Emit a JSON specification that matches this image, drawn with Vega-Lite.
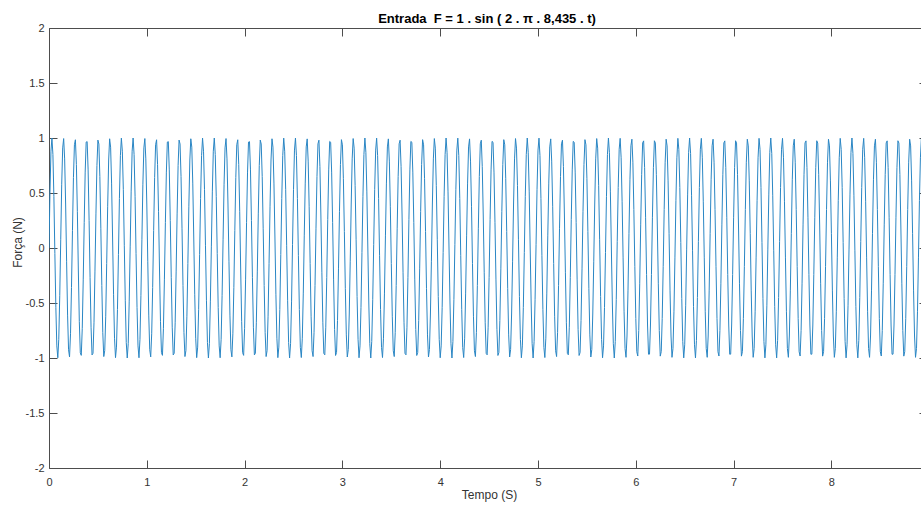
{
"$schema":"https://vega.github.io/schema/vega-lite/v6.json",
"width":872,"height":440,
"autosize":{"type":"none"},
"padding":{"left":49,"top":28,"right":0,"bottom":38},
"background":"#ffffff",
"config":{"view":{"stroke":null},"font":"Liberation Sans"},
"title":{"text":"Entrada\u00a0 F = 1 . sin ( 2 . π . 8,435 . t)","fontSize":13,"fontWeight":"bold","color":"#000000","anchor":"middle","baseline":"alphabetic","offset":-14,"dx":2,"font":"Liberation Sans"},
"data":{"values":[
{"t":0,"f":0},{"t":0.01,"f":0.51},{"t":0.02,"f":0.88},{"t":0.03,"f":1},{"t":0.04,"f":0.85},{"t":0.05,"f":0.47},{"t":0.06,"f":-0.05},{"t":0.07,"f":-0.54},{"t":0.08,"f":-0.89},{"t":0.09,"f":-0.998},
{"t":0.10,"f":-0.83},{"t":0.11,"f":-0.43},{"t":0.12,"f":0.08},{"t":0.13,"f":0.58},{"t":0.14,"f":0.91},{"t":0.15,"f":0.995},{"t":0.16,"f":0.81},{"t":0.17,"f":0.40},{"t":0.18,"f":-0.12},{"t":0.19,"f":-0.61},
{"t":0.20,"f":-0.925},{"t":0.21,"f":-0.99},{"t":0.22,"f":-0.78},{"t":0.23,"f":-0.36},{"t":0.24,"f":0.16},{"t":0.25,"f":0.64},{"t":0.26,"f":0.939},{"t":0.27,"f":0.984},{"t":0.28,"f":0.76},{"t":0.29,"f":0.33},
{"t":0.30,"f":-0.20},{"t":0.31,"f":-0.67},{"t":0.32,"f":-0.952},{"t":0.33,"f":-0.976},{"t":0.34,"f":-0.73},{"t":0.35,"f":-0.29},{"t":0.36,"f":0.23},{"t":0.37,"f":0.69},{"t":0.38,"f":0.963},{"t":0.39,"f":0.967},
{"t":0.40,"f":0.71},{"t":0.41,"f":0.25},{"t":0.42,"f":-0.27},{"t":0.43,"f":-0.72},{"t":0.44,"f":-0.972},{"t":0.45,"f":-0.957},{"t":0.46,"f":-0.68},{"t":0.47,"f":-0.21},{"t":0.48,"f":0.31},{"t":0.49,"f":0.75},
{"t":0.50,"f":0.981},{"t":0.51,"f":0.945},{"t":0.52,"f":0.65},{"t":0.53,"f":0.18},{"t":0.54,"f":-0.34},{"t":0.55,"f":-0.77},{"t":0.56,"f":-0.987},{"t":0.57,"f":-0.932},{"t":0.58,"f":-0.62},{"t":0.59,"f":-0.14},
{"t":0.60,"f":0.38},{"t":0.61,"f":0.80},{"t":0.62,"f":0.993},{"t":0.63,"f":0.917},{"t":0.64,"f":0.59},{"t":0.65,"f":0.10},{"t":0.66,"f":-0.42},{"t":0.67,"f":-0.82},{"t":0.68,"f":-0.997},{"t":0.69,"f":-0.901},
{"t":0.70,"f":-0.56},{"t":0.71,"f":-0.06},{"t":0.72,"f":0.45},{"t":0.73,"f":0.84},{"t":0.74,"f":0.999},{"t":0.75,"f":0.88},{"t":0.76,"f":0.53},{"t":0.77,"f":0.02},{"t":0.78,"f":-0.48},{"t":0.79,"f":-0.86},
{"t":0.80,"f":-1},{"t":0.81,"f":-0.87},{"t":0.82,"f":-0.49},
{"t":0.83,"f":0.01},{"t":0.84,"f":0.51},{"t":0.85,"f":0.88},{"t":0.86,"f":1},{"t":0.87,"f":0.85},{"t":0.88,"f":0.47},{"t":0.89,"f":-0.05},{"t":0.90,"f":-0.54},{"t":0.91,"f":-0.89},{"t":0.92,"f":-0.998},
{"t":0.93,"f":-0.83},{"t":0.94,"f":-0.43},{"t":0.95,"f":0.08},{"t":0.96,"f":0.58},{"t":0.97,"f":0.91},{"t":0.98,"f":0.995},{"t":0.99,"f":0.81},{"t":1.00,"f":0.40},{"t":1.01,"f":-0.12},{"t":1.02,"f":-0.61},
{"t":1.03,"f":-0.925},{"t":1.04,"f":-0.99},{"t":1.05,"f":-0.78},{"t":1.06,"f":-0.36},{"t":1.07,"f":0.16},{"t":1.08,"f":0.64},{"t":1.09,"f":0.939},{"t":1.10,"f":0.984},{"t":1.11,"f":0.76},{"t":1.12,"f":0.33},
{"t":1.13,"f":-0.20},{"t":1.14,"f":-0.67},{"t":1.15,"f":-0.952},{"t":1.16,"f":-0.976},{"t":1.17,"f":-0.73},{"t":1.18,"f":-0.29},{"t":1.19,"f":0.23},{"t":1.20,"f":0.69},{"t":1.21,"f":0.963},{"t":1.22,"f":0.967},
{"t":1.23,"f":0.71},{"t":1.24,"f":0.25},{"t":1.25,"f":-0.27},{"t":1.26,"f":-0.72},{"t":1.27,"f":-0.972},{"t":1.28,"f":-0.957},{"t":1.29,"f":-0.68},{"t":1.30,"f":-0.21},{"t":1.31,"f":0.31},{"t":1.32,"f":0.75},
{"t":1.33,"f":0.981},{"t":1.34,"f":0.945},{"t":1.35,"f":0.65},{"t":1.36,"f":0.18},{"t":1.37,"f":-0.34},{"t":1.38,"f":-0.77},{"t":1.39,"f":-0.987},{"t":1.40,"f":-0.932},{"t":1.41,"f":-0.62},{"t":1.42,"f":-0.14},
{"t":1.43,"f":0.38},{"t":1.44,"f":0.80},{"t":1.45,"f":0.993},{"t":1.46,"f":0.917},{"t":1.47,"f":0.59},{"t":1.48,"f":0.10},{"t":1.49,"f":-0.42},{"t":1.50,"f":-0.82},{"t":1.51,"f":-0.997},{"t":1.52,"f":-0.901},
{"t":1.53,"f":-0.56},{"t":1.54,"f":-0.06},{"t":1.55,"f":0.45},{"t":1.56,"f":0.84},{"t":1.57,"f":0.999},{"t":1.58,"f":0.88},{"t":1.59,"f":0.53},{"t":1.60,"f":0.02},{"t":1.61,"f":-0.48},{"t":1.62,"f":-0.86},
{"t":1.63,"f":-1},{"t":1.64,"f":-0.87},{"t":1.65,"f":-0.49},
{"t":1.66,"f":0.01},{"t":1.67,"f":0.51},{"t":1.68,"f":0.88},{"t":1.69,"f":1},{"t":1.70,"f":0.85},{"t":1.71,"f":0.47},{"t":1.72,"f":-0.05},{"t":1.73,"f":-0.54},{"t":1.74,"f":-0.89},{"t":1.75,"f":-0.998},
{"t":1.76,"f":-0.83},{"t":1.77,"f":-0.43},{"t":1.78,"f":0.08},{"t":1.79,"f":0.58},{"t":1.80,"f":0.91},{"t":1.81,"f":0.995},{"t":1.82,"f":0.81},{"t":1.83,"f":0.40},{"t":1.84,"f":-0.12},{"t":1.85,"f":-0.61},
{"t":1.86,"f":-0.925},{"t":1.87,"f":-0.99},{"t":1.88,"f":-0.78},{"t":1.89,"f":-0.36},{"t":1.90,"f":0.16},{"t":1.91,"f":0.64},{"t":1.92,"f":0.939},{"t":1.93,"f":0.984},{"t":1.94,"f":0.76},{"t":1.95,"f":0.33},
{"t":1.96,"f":-0.20},{"t":1.97,"f":-0.67},{"t":1.98,"f":-0.952},{"t":1.99,"f":-0.976},{"t":2.00,"f":-0.73},{"t":2.01,"f":-0.29},{"t":2.02,"f":0.23},{"t":2.03,"f":0.69},{"t":2.04,"f":0.963},{"t":2.05,"f":0.967},
{"t":2.06,"f":0.71},{"t":2.07,"f":0.25},{"t":2.08,"f":-0.27},{"t":2.09,"f":-0.72},{"t":2.10,"f":-0.972},{"t":2.11,"f":-0.957},{"t":2.12,"f":-0.68},{"t":2.13,"f":-0.21},{"t":2.14,"f":0.31},{"t":2.15,"f":0.75},
{"t":2.16,"f":0.981},{"t":2.17,"f":0.945},{"t":2.18,"f":0.65},{"t":2.19,"f":0.18},{"t":2.20,"f":-0.34},{"t":2.21,"f":-0.77},{"t":2.22,"f":-0.987},{"t":2.23,"f":-0.932},{"t":2.24,"f":-0.62},{"t":2.25,"f":-0.14},
{"t":2.26,"f":0.38},{"t":2.27,"f":0.80},{"t":2.28,"f":0.993},{"t":2.29,"f":0.917},{"t":2.30,"f":0.59},{"t":2.31,"f":0.10},{"t":2.32,"f":-0.42},{"t":2.33,"f":-0.82},{"t":2.34,"f":-0.997},{"t":2.35,"f":-0.901},
{"t":2.36,"f":-0.56},{"t":2.37,"f":-0.06},{"t":2.38,"f":0.45},{"t":2.39,"f":0.84},{"t":2.40,"f":0.999},{"t":2.41,"f":0.88},{"t":2.42,"f":0.53},{"t":2.43,"f":0.02},{"t":2.44,"f":-0.48},{"t":2.45,"f":-0.86},
{"t":2.46,"f":-1},{"t":2.47,"f":-0.87},{"t":2.48,"f":-0.49},
{"t":2.49,"f":0.03},{"t":2.50,"f":0.53},{"t":2.51,"f":0.89},{"t":2.52,"f":0.999},{"t":2.53,"f":0.84},{"t":2.54,"f":0.45},{"t":2.55,"f":-0.07},{"t":2.56,"f":-0.56},{"t":2.57,"f":-0.904},{"t":2.58,"f":-0.996},
{"t":2.59,"f":-0.82},{"t":2.60,"f":-0.41},{"t":2.61,"f":0.11},{"t":2.62,"f":0.59},{"t":2.63,"f":0.919},{"t":2.64,"f":0.992},{"t":2.65,"f":0.79},{"t":2.66,"f":0.38},{"t":2.67,"f":-0.14},{"t":2.68,"f":-0.62},
{"t":2.69,"f":-0.934},{"t":2.70,"f":-0.987},{"t":2.71,"f":-0.77},{"t":2.72,"f":-0.34},{"t":2.73,"f":0.18},{"t":2.74,"f":0.65},{"t":2.75,"f":0.947},{"t":2.76,"f":0.98},{"t":2.77,"f":0.74},{"t":2.78,"f":0.30},
{"t":2.79,"f":-0.22},{"t":2.80,"f":-0.68},{"t":2.81,"f":-0.958},{"t":2.82,"f":-0.971},{"t":2.83,"f":-0.72},{"t":2.84,"f":-0.27},{"t":2.85,"f":0.26},{"t":2.86,"f":0.71},{"t":2.87,"f":0.969},{"t":2.88,"f":0.961},
{"t":2.89,"f":0.69},{"t":2.90,"f":0.23},{"t":2.91,"f":-0.29},{"t":2.92,"f":-0.74},{"t":2.93,"f":-0.977},{"t":2.94,"f":-0.95},{"t":2.95,"f":-0.66},{"t":2.96,"f":-0.19},{"t":2.97,"f":0.33},{"t":2.98,"f":0.76},
{"t":2.99,"f":0.985},{"t":3.00,"f":0.938},{"t":3.01,"f":0.63},{"t":3.02,"f":0.15},{"t":3.03,"f":-0.37},{"t":3.04,"f":-0.79},{"t":3.05,"f":-0.991},{"t":3.06,"f":-0.923},{"t":3.07,"f":-0.60},{"t":3.08,"f":-0.12},
{"t":3.09,"f":0.40},{"t":3.10,"f":0.81},{"t":3.11,"f":0.995},{"t":3.12,"f":0.908},{"t":3.13,"f":0.57},{"t":3.14,"f":0.08},{"t":3.15,"f":-0.44},{"t":3.16,"f":-0.83},{"t":3.17,"f":-0.998},{"t":3.18,"f":-0.89},
{"t":3.19,"f":-0.54},{"t":3.20,"f":-0.04},{"t":3.21,"f":0.47},{"t":3.22,"f":0.85},{"t":3.23,"f":1},{"t":3.24,"f":0.87},{"t":3.25,"f":0.51},{"t":3.26,"f":0.00},{"t":3.27,"f":-0.50},{"t":3.28,"f":-0.87},
{"t":3.29,"f":-1},{"t":3.30,"f":-0.85},{"t":3.31,"f":-0.47},
{"t":3.32,"f":0.03},{"t":3.33,"f":0.53},{"t":3.34,"f":0.89},{"t":3.35,"f":0.999},{"t":3.36,"f":0.84},{"t":3.37,"f":0.45},{"t":3.38,"f":-0.07},{"t":3.39,"f":-0.56},{"t":3.40,"f":-0.904},{"t":3.41,"f":-0.996},
{"t":3.42,"f":-0.82},{"t":3.43,"f":-0.41},{"t":3.44,"f":0.11},{"t":3.45,"f":0.59},{"t":3.46,"f":0.919},{"t":3.47,"f":0.992},{"t":3.48,"f":0.79},{"t":3.49,"f":0.38},{"t":3.50,"f":-0.14},{"t":3.51,"f":-0.62},
{"t":3.52,"f":-0.934},{"t":3.53,"f":-0.987},{"t":3.54,"f":-0.77},{"t":3.55,"f":-0.34},{"t":3.56,"f":0.18},{"t":3.57,"f":0.65},{"t":3.58,"f":0.947},{"t":3.59,"f":0.98},{"t":3.60,"f":0.74},{"t":3.61,"f":0.30},
{"t":3.62,"f":-0.22},{"t":3.63,"f":-0.68},{"t":3.64,"f":-0.958},{"t":3.65,"f":-0.971},{"t":3.66,"f":-0.72},{"t":3.67,"f":-0.27},{"t":3.68,"f":0.26},{"t":3.69,"f":0.71},{"t":3.70,"f":0.969},{"t":3.71,"f":0.961},
{"t":3.72,"f":0.69},{"t":3.73,"f":0.23},{"t":3.74,"f":-0.29},{"t":3.75,"f":-0.74},{"t":3.76,"f":-0.977},{"t":3.77,"f":-0.95},{"t":3.78,"f":-0.66},{"t":3.79,"f":-0.19},{"t":3.80,"f":0.33},{"t":3.81,"f":0.76},
{"t":3.82,"f":0.985},{"t":3.83,"f":0.938},{"t":3.84,"f":0.63},{"t":3.85,"f":0.15},{"t":3.86,"f":-0.37},{"t":3.87,"f":-0.79},{"t":3.88,"f":-0.991},{"t":3.89,"f":-0.923},{"t":3.90,"f":-0.60},{"t":3.91,"f":-0.12},
{"t":3.92,"f":0.40},{"t":3.93,"f":0.81},{"t":3.94,"f":0.995},{"t":3.95,"f":0.908},{"t":3.96,"f":0.57},{"t":3.97,"f":0.08},{"t":3.98,"f":-0.44},{"t":3.99,"f":-0.83},{"t":4.00,"f":-0.998},{"t":4.01,"f":-0.89},
{"t":4.02,"f":-0.54},{"t":4.03,"f":-0.04},{"t":4.04,"f":0.47},{"t":4.05,"f":0.85},{"t":4.06,"f":1},{"t":4.07,"f":0.87},{"t":4.08,"f":0.51},{"t":4.09,"f":0.00},{"t":4.10,"f":-0.50},{"t":4.11,"f":-0.87},
{"t":4.12,"f":-1},{"t":4.13,"f":-0.85},{"t":4.14,"f":-0.47},
{"t":4.15,"f":0.03},{"t":4.16,"f":0.53},{"t":4.17,"f":0.89},{"t":4.18,"f":0.999},{"t":4.19,"f":0.84},{"t":4.20,"f":0.45},{"t":4.21,"f":-0.07},{"t":4.22,"f":-0.56},{"t":4.23,"f":-0.904},{"t":4.24,"f":-0.996},
{"t":4.25,"f":-0.82},{"t":4.26,"f":-0.41},{"t":4.27,"f":0.11},{"t":4.28,"f":0.59},{"t":4.29,"f":0.919},{"t":4.30,"f":0.992},{"t":4.31,"f":0.79},{"t":4.32,"f":0.38},{"t":4.33,"f":-0.14},{"t":4.34,"f":-0.62},
{"t":4.35,"f":-0.934},{"t":4.36,"f":-0.987},{"t":4.37,"f":-0.77},{"t":4.38,"f":-0.34},{"t":4.39,"f":0.18},{"t":4.40,"f":0.65},{"t":4.41,"f":0.947},{"t":4.42,"f":0.98},{"t":4.43,"f":0.74},{"t":4.44,"f":0.30},
{"t":4.45,"f":-0.22},{"t":4.46,"f":-0.68},{"t":4.47,"f":-0.958},{"t":4.48,"f":-0.971},{"t":4.49,"f":-0.72},{"t":4.50,"f":-0.27},{"t":4.51,"f":0.26},{"t":4.52,"f":0.71},{"t":4.53,"f":0.969},{"t":4.54,"f":0.961},
{"t":4.55,"f":0.69},{"t":4.56,"f":0.23},{"t":4.57,"f":-0.29},{"t":4.58,"f":-0.74},{"t":4.59,"f":-0.977},{"t":4.60,"f":-0.95},{"t":4.61,"f":-0.66},{"t":4.62,"f":-0.19},{"t":4.63,"f":0.33},{"t":4.64,"f":0.76},
{"t":4.65,"f":0.985},{"t":4.66,"f":0.938},{"t":4.67,"f":0.63},{"t":4.68,"f":0.15},{"t":4.69,"f":-0.37},{"t":4.70,"f":-0.79},{"t":4.71,"f":-0.991},{"t":4.72,"f":-0.923},{"t":4.73,"f":-0.60},{"t":4.74,"f":-0.12},
{"t":4.75,"f":0.40},{"t":4.76,"f":0.81},{"t":4.77,"f":0.995},{"t":4.78,"f":0.908},{"t":4.79,"f":0.57},{"t":4.80,"f":0.08},{"t":4.81,"f":-0.44},{"t":4.82,"f":-0.83},{"t":4.83,"f":-0.998},{"t":4.84,"f":-0.89},
{"t":4.85,"f":-0.54},{"t":4.86,"f":-0.04},{"t":4.87,"f":0.47},{"t":4.88,"f":0.85},{"t":4.89,"f":1},{"t":4.90,"f":0.87},{"t":4.91,"f":0.51},{"t":4.92,"f":0.00},{"t":4.93,"f":-0.50},{"t":4.94,"f":-0.87},
{"t":4.95,"f":-1},{"t":4.96,"f":-0.85},{"t":4.97,"f":-0.47},
{"t":4.98,"f":0.03},{"t":4.99,"f":0.53},{"t":5.00,"f":0.89},{"t":5.01,"f":0.999},{"t":5.02,"f":0.84},{"t":5.03,"f":0.45},{"t":5.04,"f":-0.07},{"t":5.05,"f":-0.56},{"t":5.06,"f":-0.904},{"t":5.07,"f":-0.996},
{"t":5.08,"f":-0.82},{"t":5.09,"f":-0.41},{"t":5.10,"f":0.11},{"t":5.11,"f":0.59},{"t":5.12,"f":0.919},{"t":5.13,"f":0.992},{"t":5.14,"f":0.79},{"t":5.15,"f":0.38},{"t":5.16,"f":-0.14},{"t":5.17,"f":-0.62},
{"t":5.18,"f":-0.934},{"t":5.19,"f":-0.987},{"t":5.20,"f":-0.77},{"t":5.21,"f":-0.34},{"t":5.22,"f":0.18},{"t":5.23,"f":0.65},{"t":5.24,"f":0.947},{"t":5.25,"f":0.98},{"t":5.26,"f":0.74},{"t":5.27,"f":0.30},
{"t":5.28,"f":-0.22},{"t":5.29,"f":-0.68},{"t":5.30,"f":-0.958},{"t":5.31,"f":-0.971},{"t":5.32,"f":-0.72},{"t":5.33,"f":-0.27},{"t":5.34,"f":0.26},{"t":5.35,"f":0.71},{"t":5.36,"f":0.969},{"t":5.37,"f":0.961},
{"t":5.38,"f":0.69},{"t":5.39,"f":0.23},{"t":5.40,"f":-0.29},{"t":5.41,"f":-0.74},{"t":5.42,"f":-0.977},{"t":5.43,"f":-0.95},{"t":5.44,"f":-0.66},{"t":5.45,"f":-0.19},{"t":5.46,"f":0.33},{"t":5.47,"f":0.76},
{"t":5.48,"f":0.985},{"t":5.49,"f":0.938},{"t":5.50,"f":0.63},{"t":5.51,"f":0.15},{"t":5.52,"f":-0.37},{"t":5.53,"f":-0.79},{"t":5.54,"f":-0.991},{"t":5.55,"f":-0.923},{"t":5.56,"f":-0.60},{"t":5.57,"f":-0.12},
{"t":5.58,"f":0.40},{"t":5.59,"f":0.81},{"t":5.60,"f":0.995},{"t":5.61,"f":0.908},{"t":5.62,"f":0.57},{"t":5.63,"f":0.08},{"t":5.64,"f":-0.44},{"t":5.65,"f":-0.83},{"t":5.66,"f":-0.998},{"t":5.67,"f":-0.89},
{"t":5.68,"f":-0.54},{"t":5.69,"f":-0.04},{"t":5.70,"f":0.47},{"t":5.71,"f":0.85},{"t":5.72,"f":1},{"t":5.73,"f":0.87},{"t":5.74,"f":0.51},{"t":5.75,"f":0.00},{"t":5.76,"f":-0.50},{"t":5.77,"f":-0.87},
{"t":5.78,"f":-1},{"t":5.79,"f":-0.85},{"t":5.80,"f":-0.47},
{"t":5.81,"f":0.06},{"t":5.82,"f":0.55},{"t":5.83,"f":0.898},{"t":5.84,"f":0.997},{"t":5.85,"f":0.82},{"t":5.86,"f":0.42},{"t":5.87,"f":-0.09},{"t":5.88,"f":-0.58},{"t":5.89,"f":-0.914},{"t":5.90,"f":-0.994},
{"t":5.91,"f":-0.80},{"t":5.92,"f":-0.39},{"t":5.93,"f":0.13},{"t":5.94,"f":0.62},{"t":5.95,"f":0.929},{"t":5.96,"f":0.989},{"t":5.97,"f":0.78},{"t":5.98,"f":0.35},{"t":5.99,"f":-0.17},{"t":6.00,"f":-0.64},
{"t":6.01,"f":-0.943},{"t":6.02,"f":-0.982},{"t":6.03,"f":-0.75},{"t":6.04,"f":-0.32},{"t":6.05,"f":0.21},{"t":6.06,"f":0.67},{"t":6.07,"f":0.955},{"t":6.08,"f":0.974},{"t":6.09,"f":0.73},{"t":6.10,"f":0.28},
{"t":6.11,"f":-0.24},{"t":6.12,"f":-0.70},{"t":6.13,"f":-0.966},{"t":6.14,"f":-0.965},{"t":6.15,"f":-0.70},{"t":6.16,"f":-0.24},{"t":6.17,"f":0.28},{"t":6.18,"f":0.73},{"t":6.19,"f":0.975},{"t":6.20,"f":0.954},
{"t":6.21,"f":0.67},{"t":6.22,"f":0.20},{"t":6.23,"f":-0.32},{"t":6.24,"f":-0.75},{"t":6.25,"f":-0.983},{"t":6.26,"f":-0.942},{"t":6.27,"f":-0.64},{"t":6.28,"f":-0.17},{"t":6.29,"f":0.35},{"t":6.30,"f":0.78},
{"t":6.31,"f":0.989},{"t":6.32,"f":0.928},{"t":6.33,"f":0.61},{"t":6.34,"f":0.13},{"t":6.35,"f":-0.39},{"t":6.36,"f":-0.80},{"t":6.37,"f":-0.994},{"t":6.38,"f":-0.913},{"t":6.39,"f":-0.58},{"t":6.40,"f":-0.09},
{"t":6.41,"f":0.43},{"t":6.42,"f":0.82},{"t":6.43,"f":0.997},{"t":6.44,"f":0.897},{"t":6.45,"f":0.55},{"t":6.46,"f":0.05},{"t":6.47,"f":-0.46},{"t":6.48,"f":-0.85},{"t":6.49,"f":-0.999},{"t":6.50,"f":-0.88},
{"t":6.51,"f":-0.52},{"t":6.52,"f":-0.01},{"t":6.53,"f":0.49},{"t":6.54,"f":0.87},{"t":6.55,"f":1},{"t":6.56,"f":0.86},{"t":6.57,"f":0.48},{"t":6.58,"f":-0.02},{"t":6.59,"f":-0.53},{"t":6.60,"f":-0.88},
{"t":6.61,"f":-0.999},{"t":6.62,"f":-0.84},{"t":6.63,"f":-0.45},
{"t":6.64,"f":0.06},{"t":6.65,"f":0.55},{"t":6.66,"f":0.898},{"t":6.67,"f":0.997},{"t":6.68,"f":0.82},{"t":6.69,"f":0.42},{"t":6.70,"f":-0.09},{"t":6.71,"f":-0.58},{"t":6.72,"f":-0.914},{"t":6.73,"f":-0.994},
{"t":6.74,"f":-0.80},{"t":6.75,"f":-0.39},{"t":6.76,"f":0.13},{"t":6.77,"f":0.62},{"t":6.78,"f":0.929},{"t":6.79,"f":0.989},{"t":6.80,"f":0.78},{"t":6.81,"f":0.35},{"t":6.82,"f":-0.17},{"t":6.83,"f":-0.64},
{"t":6.84,"f":-0.943},{"t":6.85,"f":-0.982},{"t":6.86,"f":-0.75},{"t":6.87,"f":-0.32},{"t":6.88,"f":0.21},{"t":6.89,"f":0.67},{"t":6.90,"f":0.955},{"t":6.91,"f":0.974},{"t":6.92,"f":0.73},{"t":6.93,"f":0.28},
{"t":6.94,"f":-0.24},{"t":6.95,"f":-0.70},{"t":6.96,"f":-0.966},{"t":6.97,"f":-0.965},{"t":6.98,"f":-0.70},{"t":6.99,"f":-0.24},{"t":7.00,"f":0.28},{"t":7.01,"f":0.73},{"t":7.02,"f":0.975},{"t":7.03,"f":0.954},
{"t":7.04,"f":0.67},{"t":7.05,"f":0.20},{"t":7.06,"f":-0.32},{"t":7.07,"f":-0.75},{"t":7.08,"f":-0.983},{"t":7.09,"f":-0.942},{"t":7.10,"f":-0.64},{"t":7.11,"f":-0.17},{"t":7.12,"f":0.35},{"t":7.13,"f":0.78},
{"t":7.14,"f":0.989},{"t":7.15,"f":0.928},{"t":7.16,"f":0.61},{"t":7.17,"f":0.13},{"t":7.18,"f":-0.39},{"t":7.19,"f":-0.80},{"t":7.20,"f":-0.994},{"t":7.21,"f":-0.913},{"t":7.22,"f":-0.58},{"t":7.23,"f":-0.09},
{"t":7.24,"f":0.43},{"t":7.25,"f":0.82},{"t":7.26,"f":0.997},{"t":7.27,"f":0.897},{"t":7.28,"f":0.55},{"t":7.29,"f":0.05},{"t":7.30,"f":-0.46},{"t":7.31,"f":-0.85},{"t":7.32,"f":-0.999},{"t":7.33,"f":-0.88},
{"t":7.34,"f":-0.52},{"t":7.35,"f":-0.01},{"t":7.36,"f":0.49},{"t":7.37,"f":0.87},{"t":7.38,"f":1},{"t":7.39,"f":0.86},{"t":7.40,"f":0.48},{"t":7.41,"f":-0.02},{"t":7.42,"f":-0.53},{"t":7.43,"f":-0.88},
{"t":7.44,"f":-0.999},{"t":7.45,"f":-0.84},{"t":7.46,"f":-0.45},
{"t":7.47,"f":0.06},{"t":7.48,"f":0.55},{"t":7.49,"f":0.898},{"t":7.50,"f":0.997},{"t":7.51,"f":0.82},{"t":7.52,"f":0.42},{"t":7.53,"f":-0.09},{"t":7.54,"f":-0.58},{"t":7.55,"f":-0.914},{"t":7.56,"f":-0.994},
{"t":7.57,"f":-0.80},{"t":7.58,"f":-0.39},{"t":7.59,"f":0.13},{"t":7.60,"f":0.62},{"t":7.61,"f":0.929},{"t":7.62,"f":0.989},{"t":7.63,"f":0.78},{"t":7.64,"f":0.35},{"t":7.65,"f":-0.17},{"t":7.66,"f":-0.64},
{"t":7.67,"f":-0.943},{"t":7.68,"f":-0.982},{"t":7.69,"f":-0.75},{"t":7.70,"f":-0.32},{"t":7.71,"f":0.21},{"t":7.72,"f":0.67},{"t":7.73,"f":0.955},{"t":7.74,"f":0.974},{"t":7.75,"f":0.73},{"t":7.76,"f":0.28},
{"t":7.77,"f":-0.24},{"t":7.78,"f":-0.70},{"t":7.79,"f":-0.966},{"t":7.80,"f":-0.965},{"t":7.81,"f":-0.70},{"t":7.82,"f":-0.24},{"t":7.83,"f":0.28},{"t":7.84,"f":0.73},{"t":7.85,"f":0.975},{"t":7.86,"f":0.954},
{"t":7.87,"f":0.67},{"t":7.88,"f":0.20},{"t":7.89,"f":-0.32},{"t":7.90,"f":-0.75},{"t":7.91,"f":-0.983},{"t":7.92,"f":-0.942},{"t":7.93,"f":-0.64},{"t":7.94,"f":-0.17},{"t":7.95,"f":0.35},{"t":7.96,"f":0.78},
{"t":7.97,"f":0.989},{"t":7.98,"f":0.928},{"t":7.99,"f":0.61},{"t":8.00,"f":0.13},{"t":8.01,"f":-0.39},{"t":8.02,"f":-0.80},{"t":8.03,"f":-0.994},{"t":8.04,"f":-0.913},{"t":8.05,"f":-0.58},{"t":8.06,"f":-0.09},
{"t":8.07,"f":0.43},{"t":8.08,"f":0.82},{"t":8.09,"f":0.997},{"t":8.10,"f":0.897},{"t":8.11,"f":0.55},{"t":8.12,"f":0.05},{"t":8.13,"f":-0.46},{"t":8.14,"f":-0.85},{"t":8.15,"f":-0.999},{"t":8.16,"f":-0.88},
{"t":8.17,"f":-0.52},{"t":8.18,"f":-0.01},{"t":8.19,"f":0.49},{"t":8.20,"f":0.87},{"t":8.21,"f":1},{"t":8.22,"f":0.86},{"t":8.23,"f":0.48},{"t":8.24,"f":-0.02},{"t":8.25,"f":-0.53},{"t":8.26,"f":-0.88},
{"t":8.27,"f":-0.999},{"t":8.28,"f":-0.84},{"t":8.29,"f":-0.45},
{"t":8.30,"f":0.06},{"t":8.31,"f":0.55},{"t":8.32,"f":0.898},{"t":8.33,"f":0.997},{"t":8.34,"f":0.82},{"t":8.35,"f":0.42},{"t":8.36,"f":-0.09},{"t":8.37,"f":-0.58},{"t":8.38,"f":-0.914},{"t":8.39,"f":-0.994},
{"t":8.40,"f":-0.80},{"t":8.41,"f":-0.39},{"t":8.42,"f":0.13},{"t":8.43,"f":0.62},{"t":8.44,"f":0.929},{"t":8.45,"f":0.989},{"t":8.46,"f":0.78},{"t":8.47,"f":0.35},{"t":8.48,"f":-0.17},{"t":8.49,"f":-0.64},
{"t":8.50,"f":-0.943},{"t":8.51,"f":-0.982},{"t":8.52,"f":-0.75},{"t":8.53,"f":-0.32},{"t":8.54,"f":0.21},{"t":8.55,"f":0.67},{"t":8.56,"f":0.955},{"t":8.57,"f":0.974},{"t":8.58,"f":0.73},{"t":8.59,"f":0.28},
{"t":8.60,"f":-0.24},{"t":8.61,"f":-0.70},{"t":8.62,"f":-0.966},{"t":8.63,"f":-0.965},{"t":8.64,"f":-0.70},{"t":8.65,"f":-0.24},{"t":8.66,"f":0.28},{"t":8.67,"f":0.73},{"t":8.68,"f":0.975},{"t":8.69,"f":0.954},
{"t":8.70,"f":0.67},{"t":8.71,"f":0.20},{"t":8.72,"f":-0.32},{"t":8.73,"f":-0.75},{"t":8.74,"f":-0.983},{"t":8.75,"f":-0.942},{"t":8.76,"f":-0.64},{"t":8.77,"f":-0.17},{"t":8.78,"f":0.35},{"t":8.79,"f":0.78},
{"t":8.80,"f":0.989},{"t":8.81,"f":0.928},{"t":8.82,"f":0.61},{"t":8.83,"f":0.13},{"t":8.84,"f":-0.39},{"t":8.85,"f":-0.80},{"t":8.86,"f":-0.994},{"t":8.87,"f":-0.913},{"t":8.88,"f":-0.58},{"t":8.89,"f":-0.09},
{"t":8.90,"f":0.43},{"t":8.91,"f":0.82},{"t":8.92,"f":0.997},{"t":8.93,"f":0.897}
]},
"layer":[
{"mark":{"type":"line","color":"#2a86c4","strokeWidth":1,"clip":true},
 "encoding":{
  "x":{"field":"t","type":"quantitative","scale":{"domain":[0,8.916],"nice":false,"zero":false},
       "axis":{"orient":"bottom","values":[0,1,2,3,4,5,6,7,8],"grid":false,"tickSize":-8,"labelPadding":16,"domainColor":"#4d4d4d","tickColor":"#4d4d4d","labelColor":"#333333","labelFontSize":11,"labelFont":"Liberation Sans","labelFlush":false,"labelOverlap":false,"title":"Tempo (S)","titleFont":"Liberation Sans","titleFontSize":12,"titleFontWeight":"normal","titleColor":"#333333","titleBaseline":"alphabetic","titleX":440,"titleY":30}},
  "y":{"field":"f","type":"quantitative","scale":{"domain":[-2,2],"nice":false,"zero":false},
       "axis":{"orient":"left","values":[-2,-1.5,-1,-0.5,0,0.5,1,1.5,2],"grid":false,"tickSize":-8,"labelPadding":13,"labelExpr":"replace(format(datum.value, '~g'), '\u2212', '-')","domainColor":"#4d4d4d","tickColor":"#4d4d4d","labelColor":"#333333","labelFontSize":11,"labelFont":"Liberation Sans","labelFlush":false,"labelOverlap":false,"title":"Força (N)","titleFont":"Liberation Sans","titleFontSize":12,"titleFontWeight":"normal","titleColor":"#333333","titleBaseline":"alphabetic","titleX":-28,"titleY":214}}
 }},
{"mark":{"type":"line","strokeOpacity":0,"clip":true},
 "encoding":{
  "x":{"field":"t","type":"quantitative","axis":{"orient":"top","values":[0,1,2,3,4,5,6,7,8],"grid":false,"labels":false,"tickSize":-8,"domainColor":"#4d4d4d","tickColor":"#4d4d4d","title":null}},
  "y":{"field":"f","type":"quantitative","axis":{"orient":"right","values":[-2,-1.5,-1,-0.5,0,0.5,1,1.5,2],"grid":false,"labels":false,"tickSize":-8,"offset":6,"domainColor":"#4d4d4d","tickColor":"#4d4d4d","title":null}}
 }}
],
"resolve":{"axis":{"x":"independent","y":"independent"}}
}
